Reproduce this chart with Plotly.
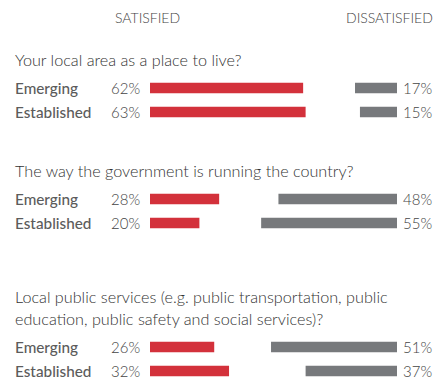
import plotly.graph_objects as go

# Survey results: share satisfied / dissatisfied by market group
questions = [
    ["Your local area as a place to live?"],
    ["The way the government is running the country?"],
    ["Local public services (e.g. public transportation, public",
     "education, public safety and social services)?"],
]
groups = ["Emerging", "Established"]
satisfied = [[62, 63], [28, 20], [26, 32]]
dissatisfied = [[17, 15], [48, 55], [51, 37]]

W, H = 440, 382
RED = "#d3313b"
GREY = "#77797c"
FONT = "Lato"

# vertical layout (pixel units, y axis runs top-down)
section_first_row = [88, 199, 347]
row_gap = 24
question_offset = 29      # question line above first row
line_gap = 22
bar_h = 10.5

# horizontal layout
px_per_pct = 2.47
left_start = 150          # red bars grow right from here
right_end = 397           # grey bars grow left to here

fig = go.Figure()

ys, sv, dv = [], [], []
for s, y0 in enumerate(section_first_row):
    for g in range(len(groups)):
        ys.append(y0 + g * row_gap)
        sv.append(satisfied[s][g])
        dv.append(dissatisfied[s][g])

fig.add_trace(go.Bar(
    x=sv, y=ys, orientation="h", width=bar_h, marker_color=RED,
    marker_line_width=0, xaxis="x", yaxis="y", hoverinfo="skip",
))
fig.add_trace(go.Bar(
    x=dv, y=ys, orientation="h", width=bar_h, marker_color=GREY,
    marker_line_width=0, xaxis="x2", yaxis="y", hoverinfo="skip",
))

ann = []
ann.append(dict(text="SATISFIED", x=147.5 / W, y=17.5, xref="paper", yref="y",
                showarrow=False, xanchor="center", yanchor="middle",
                font=dict(family=FONT, size=14, color="#444", weight=300)))
ann.append(dict(text="DISSATISFIED", x=389.5 / W, y=17.5, xref="paper", yref="y",
                showarrow=False, xanchor="center", yanchor="middle",
                font=dict(family=FONT, size=14, color="#444", weight=300)))

for s, y0 in enumerate(section_first_row):
    lines = questions[s]
    top = y0 - question_offset - line_gap * (len(lines) - 1)
    for i, line in enumerate(lines):
        ann.append(dict(text=line, x=13 / W, y=top + i * line_gap, xref="paper", yref="y",
                        showarrow=False, xanchor="left", yanchor="middle",
                        font=dict(family=FONT, size=16.2, color="#333", weight=300)))
    for g, grp in enumerate(groups):
        y = y0 + g * row_gap
        ann.append(dict(text=grp, x=13 / W, y=y, xref="paper", yref="y",
                        showarrow=False, xanchor="left", yanchor="middle",
                        font=dict(family=FONT, size=15.3, color="#5c5c5c", weight=500)))
        ann.append(dict(text=f"{satisfied[s][g]}%", x=142 / W, y=y, xref="paper", yref="y",
                        showarrow=False, xanchor="right", yanchor="middle",
                        font=dict(family=FONT, size=15, color="#444", weight=300)))
        ann.append(dict(text=f"{dissatisfied[s][g]}%", x=434 / W, y=y, xref="paper", yref="y",
                        showarrow=False, xanchor="right", yanchor="middle",
                        font=dict(family=FONT, size=15, color="#444", weight=300)))

fig.update_layout(
    width=W, height=H, margin=dict(l=0, r=0, t=0, b=0),
    paper_bgcolor="white", plot_bgcolor="rgba(0,0,0,0)",
    showlegend=False, barmode="overlay",
    xaxis=dict(domain=[left_start / W, 1], range=[0, (W - left_start) / px_per_pct],
               visible=False, fixedrange=True),
    xaxis2=dict(domain=[0, right_end / W], range=[right_end / px_per_pct, 0],
                anchor="y", visible=False, fixedrange=True),
    yaxis=dict(domain=[0, 1], range=[H, 0], visible=False, fixedrange=True),
    annotations=ann,
)

fig.write_html("out.html")
